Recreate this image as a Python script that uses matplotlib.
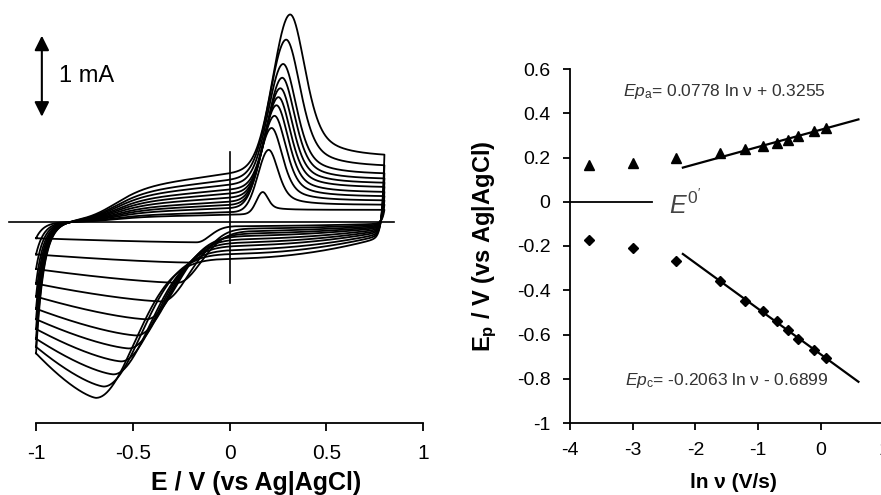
import numpy as np
import matplotlib.pyplot as plt

plt.rcParams['font.family'] = ['Liberation Sans', 'DejaVu Sans']
plt.rcParams['axes.unicode_minus'] = False
plt.rcParams['mathtext.fontset'] = 'custom'
plt.rcParams['mathtext.rm'] = 'Liberation Sans'
plt.rcParams['mathtext.it'] = 'Liberation Sans:italic'
plt.rcParams['mathtext.bf'] = 'Liberation Sans:bold'

# 右图数据：峰电位 vs ln v
ln_v = [-3.69, -3.00, -2.31, -1.61, -1.21, -0.92, -0.70, -0.52, -0.36, -0.11, 0.08]
ep_a = [0.166, 0.176, 0.199, 0.222, 0.240, 0.252, 0.266, 0.281, 0.295, 0.320, 0.335]
ep_c = [-0.172, -0.207, -0.270, -0.357, -0.448, -0.496, -0.541, -0.579, -0.620, -0.670, -0.707]
fit_a = (0.0778, 0.3255)
fit_c = (-0.2063, -0.6899)
fit_x = [-2.2, 0.6]
e0_x = [-4.0, -2.7]

# 左图数据：各扫速 CV 特征值 (V, mA)
cv_epa = [0.17, 0.20, 0.215, 0.23, 0.24, 0.25, 0.26, 0.27, 0.275, 0.29, 0.31]
cv_ipa = [0.37, 0.89, 1.16, 1.31, 1.44, 1.54, 1.65, 1.78, 1.95, 2.25, 2.56]
cv_ia0 = [0.09, 0.12, 0.17, 0.21, 0.25, 0.30, 0.35, 0.40, 0.46, 0.52, 0.60]
cv_iaend = [0.15, 0.21, 0.26, 0.31, 0.36, 0.42, 0.47, 0.52, 0.58, 0.67, 0.79]
cv_epc = [-0.17, -0.21, -0.27, -0.35, -0.43, -0.48, -0.52, -0.56, -0.60, -0.65, -0.69]
cv_ipc = [-0.25, -0.50, -0.75, -0.98, -1.20, -1.40, -1.56, -1.72, -1.88, -2.03, -2.17]
cv_ic0 = [-0.05, -0.08, -0.11, -0.14, -0.17, -0.21, -0.25, -0.29, -0.34, -0.39, -0.45]
cv_itail = [-0.20, -0.40, -0.58, -0.76, -0.92, -1.07, -1.20, -1.32, -1.44, -1.54, -1.62]
e_start, e_switch = -1.0, 0.8

fig = plt.figure(figsize=(8.81, 4.95), dpi=100)

# ---------------- 左图：循环伏安曲线 ----------------
ax1 = fig.add_axes([7/881, 72/495, 420/881, 423/495])
ax1.set_xlim(-1.15, 1.02)
ax1.set_ylim(-2.48, 2.74)


def sig(x):
    return 1.0 / (1.0 + np.exp(-x))


E_f = np.linspace(e_start, e_switch, 800)
E_r = E_f[::-1]
for k in range(len(cv_epa)):
    # 正扫（氧化峰）
    pre = cv_ia0[k] * sig((E_f + 0.61) / 0.08) * (1 + 0.55 * E_f)
    step = sig((E_f - cv_epa[k]) / 0.03)
    base = pre + (cv_iaend[k] - pre) * step
    h = cv_ipa[k] - np.interp(cv_epa[k], E_f, base)
    s = np.sqrt(h / 1.9)
    wl, wr = 0.125 * s, 0.11 * s
    d = E_f - cv_epa[k]
    g = np.where(d < 0, np.exp(-(d / wl) ** 2),
                 0.5 / (1 + (d / wr) ** 2) + 0.5 * np.exp(-(d / wr) ** 2))
    i_f = base + h * g + (cv_itail[k] - base[0]) * np.exp(-(E_f - e_start) / 0.04)

    # 反扫（还原峰）
    u = np.clip(E_r / e_switch, 0, 1)
    bc = cv_ic0[k] * (0.4 + 0.6 * (1 - u ** 2))
    hc = cv_ipc[k] - cv_ic0[k]
    wc = 0.28 * np.sqrt(hc / -1.72)
    dc = E_r - cv_epc[k]
    right = bc + hc * np.exp(-(dc / wc) ** 2)
    frac = np.clip((cv_epc[k] - E_r) / (cv_epc[k] - e_start), 0, 1)
    left = cv_ipc[k] + (cv_itail[k] - cv_ipc[k]) * frac ** 1.4
    i_r = np.where(dc >= 0, right, left)
    i_r = i_r + (i_f[-1] - i_r[0]) * np.exp(-(e_switch - E_r) / 0.012)

    ax1.plot(np.concatenate([E_f, E_r]), np.concatenate([i_f, i_r]),
             color='black', linewidth=1.3)

# 零线和参考竖线
ax1.plot([-1.14, 0.85], [0, 0], color='black', linewidth=1.2)
ax1.plot([0, 0], [-0.75, 0.86], color='black', linewidth=1.2)

# 1 mA 标尺
ax1.annotate('', xy=(-0.97, 2.30), xytext=(-0.97, 1.30),
             arrowprops=dict(arrowstyle='<|-|>', color='black', lw=1.5,
                             mutation_scale=22, shrinkA=0, shrinkB=0))
ax1.text(-0.88, 1.80, '1 mA', fontsize=17, va='center', ha='left')

for sp in ['left', 'right', 'top']:
    ax1.spines[sp].set_visible(False)
ax1.spines['bottom'].set_bounds(-1, 1)
ax1.spines['bottom'].set_linewidth(1.3)
ax1.set_yticks([])
ax1.set_xticks([-1, -0.5, 0, 0.5, 1])
ax1.set_xticklabels(['-1', '-0.5', '0', '0.5', '1'])
ax1.tick_params(axis='x', direction='out', length=6, width=1.3, pad=9, labelsize=15)
ax1.patch.set_visible(False)
fig.text(256/881, 1 - 483/495, 'E / V (vs Ag|AgCl)', fontsize=18,
         fontweight='bold', ha='center', va='center')

# ---------------- 右图：Ep vs ln v ----------------
ax2 = fig.add_axes([570/881, 72/495, 313.5/881, 354/495])
ax2.set_xlim(-4, 1)
ax2.set_ylim(-1, 0.6)

ax2.plot(ln_v, ep_a, linestyle='none', marker='^', markersize=7, color='black')
ax2.plot(ln_v, ep_c, linestyle='none', marker='D', markersize=5, color='black')

fx = np.array(fit_x)
ax2.plot(fx, fit_a[0] * fx + fit_a[1], color='black', linewidth=1.6)
ax2.plot(fx, fit_c[0] * fx + fit_c[1], color='black', linewidth=1.6)
ax2.plot(e0_x, [0, 0], color='black', linewidth=1.3)

ax2.text(-3.15, 0.50, r'$Ep_{\mathrm{a}}$= 0.0778 ln ν + 0.3255',
         fontsize=12.5, color='#333333', va='center', ha='left')
ax2.text(-3.12, -0.81, r'$Ep_{\mathrm{c}}$= -0.2063 ln ν - 0.6899',
         fontsize=12.5, color='#333333', va='center', ha='left')
ax2.text(-2.42, -0.01, r"$E^{0'}$", fontsize=18, color='#444444',
         va='center', ha='left')

for sp in ['right', 'top']:
    ax2.spines[sp].set_visible(False)
for sp in ['left', 'bottom']:
    ax2.spines[sp].set_linewidth(1.3)
ax2.set_xticks([-4, -3, -2, -1, 0, 1])
ax2.set_xticklabels(['-4', '-3', '-2', '-1', '0', '1'])
ax2.set_yticks([-1, -0.8, -0.6, -0.4, -0.2, 0, 0.2, 0.4, 0.6])
ax2.set_yticklabels(['-1', '-0.8', '-0.6', '-0.4', '-0.2', '0', '0.2', '0.4', '0.6'])
ax2.tick_params(direction='out', length=5, width=1.3, labelsize=14)
ax2.tick_params(axis='x', pad=9)
ax2.tick_params(axis='y', pad=9)
ax2.patch.set_visible(False)
fig.text(485/881, 1 - 246/495, r'E$_{\mathbf{p}}$ / V (vs Ag|AgCl)', fontsize=17,
         fontweight='bold', rotation=90, ha='center', va='center')
fig.text(733/881, 1 - 482/495, 'ln ν (V/s)', fontsize=15,
         fontweight='bold', ha='center', va='center')

fig.savefig('out.png', dpi=100, facecolor='white')
